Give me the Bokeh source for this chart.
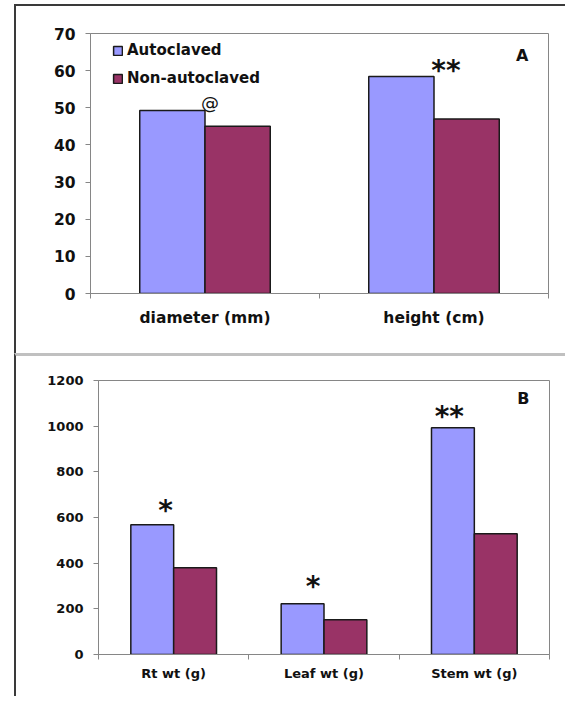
from bokeh.plotting import figure
from bokeh.models import FixedTicker, Legend, LegendItem
from bokeh.core.properties import value
from bokeh.embed import file_html
from bokeh.resources import INLINE

# ---- data ----
series = ["Autoclaved", "Non-autoclaved"]
series_colors = ["#9999FF", "#993366"]

a_categories = ["diameter (mm)", "height (cm)"]
a_autoclaved = [49.3, 58.4]
a_non_autoclaved = [45.0, 47.0]
a_marks = ["@", "**"]
a_yticks = [0, 10, 20, 30, 40, 50, 60, 70]

b_categories = ["Rt wt (g)", "Leaf wt (g)", "Stem wt (g)"]
b_autoclaved = [568, 222, 993]
b_non_autoclaved = [380, 152, 529]
b_marks = ["*", "*", "**"]
b_yticks = [0, 200, 400, 600, 800, 1000, 1200]

FONT = "DejaVu Sans"
AXIS_GRAY = "#868686"
BAR_LINE = "#1a1a1a"
FRAME_DARK = "2px solid #3a3a3a"
BW = 0.285


def make_panel(categories, auto, non, yticks, marks, letter, width, height,
               borders, tick_fs, xlab_fs, xlab_standoff, mark_styles, letter_dy,
               show_legend):
    n = len(categories)
    p = figure(width=width, height=height, output_backend="svg", toolbar_location=None,
               x_range=(0, n), y_range=(yticks[0], yticks[-1]),
               min_border_left=borders[0], min_border_right=borders[1],
               min_border_top=borders[2], min_border_bottom=borders[3])
    p.background_fill_color = "white"
    p.border_fill_color = "white"
    p.outline_line_color = AXIS_GRAY
    p.outline_line_width = 1
    p.xgrid.grid_line_color = None
    p.ygrid.grid_line_color = None

    centers = [i + 0.5 for i in range(n)]
    xa = [c - BW / 2 for c in centers]
    xn = [c + BW / 2 for c in centers]
    ra = p.vbar(x=xa, top=auto, width=BW, bottom=0, fill_color=series_colors[0],
                line_color=BAR_LINE, line_width=1.5)
    rn = p.vbar(x=xn, top=non, width=BW, bottom=0, fill_color=series_colors[1],
                line_color=BAR_LINE, line_width=1.5)

    # x axis: labels at category centers, tick marks at boundaries
    xax = p.xaxis[0]
    xax.ticker = FixedTicker(ticks=centers, minor_ticks=list(range(n + 1)))
    xax.major_label_overrides = {c: cat for c, cat in zip(centers, categories)}
    xax.major_tick_line_color = None
    xax.major_tick_out = 0
    xax.major_tick_in = 0
    xax.minor_tick_line_color = AXIS_GRAY
    xax.minor_tick_out = 5
    xax.minor_tick_in = 0
    xax.axis_line_color = AXIS_GRAY
    xax.major_label_text_font = FONT
    xax.major_label_text_font_style = "bold"
    xax.major_label_text_font_size = xlab_fs
    xax.major_label_text_color = "#111111"
    xax.major_label_standoff = xlab_standoff

    yax = p.yaxis[0]
    yax.ticker = FixedTicker(ticks=yticks)
    yax.minor_tick_line_color = None
    yax.major_tick_line_color = AXIS_GRAY
    yax.major_tick_out = 5
    yax.major_tick_in = 0
    yax.axis_line_color = AXIS_GRAY
    yax.major_label_text_font = FONT
    yax.major_label_text_font_style = "bold"
    yax.major_label_text_font_size = tick_fs
    yax.major_label_text_color = "#111111"
    yax.major_label_standoff = 10

    # significance marks
    for i, m in enumerate(marks):
        fs, style, dx, dy = mark_styles[i]
        p.text(x=[centers[i]], y=[max(auto[i], non[i])], text=[m],
               text_font=value(FONT), text_font_size=fs, text_font_style=style,
               text_align="center", text_baseline="alphabetic",
               x_offset=dx, y_offset=dy, text_color="#111111")

    # panel letter
    p.text(x=[n], y=[yticks[-1]], text=[letter], text_font=value(FONT),
           text_font_size="16px", text_font_style="bold", text_align="right",
           text_baseline="top", x_offset=-20, y_offset=letter_dy, text_color="#111111")

    if show_legend:
        leg = Legend(items=[LegendItem(label=series[0], renderers=[ra]),
                            LegendItem(label=series[1], renderers=[rn])],
                     location=(22, 205), margin=0, padding=0, spacing=8,
                     glyph_width=11, glyph_height=11, label_height=20,
                     label_standoff=4, label_text_font=FONT,
                     label_text_font_style="bold", label_text_font_size="15px",
                     label_text_color="#111111",
                     background_fill_alpha=0, border_line_color=None)
        p.add_layout(leg)
    return p


pA = make_panel(a_categories, a_autoclaved, a_non_autoclaved, a_yticks, a_marks, "A",
                551, 349, (74, 19, 27, 62), "15.5px", "15.5px", 10,
                [("18px", "normal", 5, -8), ("28px", "bold", 12, -6)], 12, True)
pB = make_panel(b_categories, b_autoclaved, b_non_autoclaved, b_yticks, b_marks, "B",
                551, 343, (82, 18, 24, 45), "13px", "13px", 6,
                [("28px", "bold", -8, -14), ("28px", "bold", -11, -17), ("28px", "bold", -25, -11)],
                8, False)
pA.styles = {"border-left": FRAME_DARK, "border-top": FRAME_DARK,
             "margin-left": "14px", "margin-top": "4px"}
pB.styles = {"border-left": FRAME_DARK, "border-top": "3px solid #c0c0c0",
             "margin-left": "14px"}

open("out.html", "w").write(file_html([pA, pB], INLINE))
